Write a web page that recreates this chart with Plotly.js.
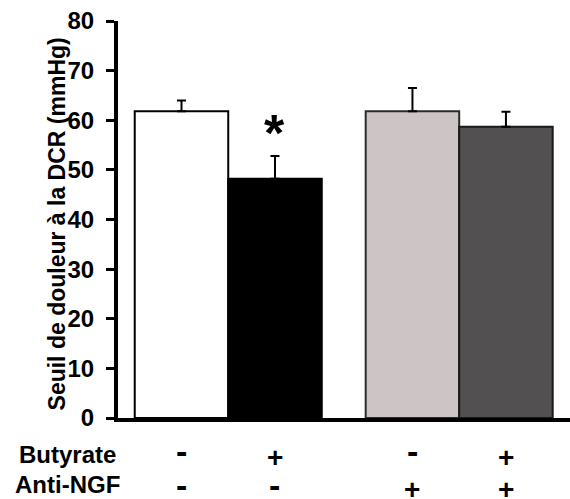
<!DOCTYPE html>
<html>
<head>
<meta charset="utf-8">
<script src="https://cdn.plot.ly/plotly-3.0.1.min.js"></script>
<style>html,body{margin:0;padding:0;background:#fff;}#chart{width:570px;height:499px;}</style>
</head>
<body>
<div id="chart"></div>
<script>
// ---- data ----
var groups = ["Contrôle", "Butyrate", "Anti-NGF", "Butyrate + Anti-NGF"];
var butyrate = ["-", "+", "-", "+"];
var antiNGF = ["-", "-", "+", "+"];
var means = [61.8, 48.2, 61.8, 58.7];
var sem = [2.2, 4.6, 4.7, 3.0];
var significant = [false, true, false, false];
var rowLabels = ["Butyrate", "Anti-NGF"];
var yTitle = "Seuil de douleur à la DCR (mmHg)";

// ---- styles ----
var fills = ["#ffffff", "#000000", "#cdc4c5", "#525051"];
var outlines = ["#000000", "#000000", "#2a2a2a", "#1a1a1a"];
var FONT = "Liberation Sans, Arial, Helvetica, sans-serif";
var ROW_Y = [{ minus: -0.083, plus: -0.097 }, { minus: -0.169, plus: -0.178 }];

// bar positions: consecutive within a treatment group, extra gap between groups
var xs = groups.map(function (g, i) { return 1 + i + (antiNGF[i] === "+" ? 0.47 : 0); });

var trace = {
  type: "bar",
  x: xs,
  y: means,
  width: 1.0,
  marker: { color: fills, line: { color: outlines, width: 2 } },
  error_y: {
    type: "data", symmetric: false, array: sem,
    arrayminus: sem.map(function () { return 0; }),
    color: "#000", thickness: 2, width: 4.5
  },
  hoverinfo: "skip",
  cliponaxis: false
};

function signAnn(x, sign, row) {
  var pos = ROW_Y[row];
  return { xref: "x", yref: "paper", x: x, y: sign === "+" ? pos.plus : pos.minus, text: sign, showarrow: false,
    yanchor: "middle", xanchor: "center", height: 20, valign: "middle",
    font: { family: FONT, size: sign === "+" ? 28 : 34, color: "#000", weight: 900 } };
}

var annotations = [];
xs.forEach(function (x, i) {
  annotations.push(signAnn(x, butyrate[i], 0));
  annotations.push(signAnn(x, antiNGF[i], 1));
  if (significant[i]) {
    annotations.push({ xref: "x", yref: "y", x: x, y: means[i] + sem[i], text: "*", showarrow: false,
      yanchor: "bottom", xanchor: "center", yshift: -8, font: { family: FONT, size: 52, color: "#000", weight: 700 } });
  }
});
rowLabels.forEach(function (t, r) {
  annotations.push({ xref: "paper", yref: "paper", x: -0.111, y: r === 0 ? -0.093 : -0.168, text: t, showarrow: false,
    yanchor: "middle", xanchor: "center", font: { family: FONT, size: 24, color: "#000", weight: 700 } });
});
// y-axis title
annotations.push({ xref: "paper", yref: "paper", x: -0.135, y: 0.49, text: yTitle, textangle: -90, showarrow: false,
  xanchor: "center", yanchor: "middle", font: { family: FONT, size: 23, color: "#000", weight: 700 } });

var layout = {
  width: 570, height: 499,
  margin: { l: 118, r: 0, t: 21, b: 81, pad: 0 },
  paper_bgcolor: "#fff", plot_bgcolor: "#fff",
  showlegend: false,
  xaxis: {
    range: [0.321, 5.155], showgrid: false, zeroline: false, showline: true,
    linecolor: "#000", linewidth: 4, ticks: "", showticklabels: false, fixedrange: true
  },
  yaxis: {
    range: [0, 80], dtick: 10, tick0: 0, showgrid: false, zeroline: false, showline: true,
    linecolor: "#000", linewidth: 4, ticks: "outside", ticklen: 8, tickwidth: 3, tickcolor: "#000",
    ticklabelstandoff: 7,
    tickfont: { family: FONT, size: 24, color: "#000", weight: 700 },
    fixedrange: true
  },
  annotations: annotations
};

Plotly.newPlot("chart", [trace], layout, { displayModeBar: false, staticPlot: true });
</script>
</body>
</html>
